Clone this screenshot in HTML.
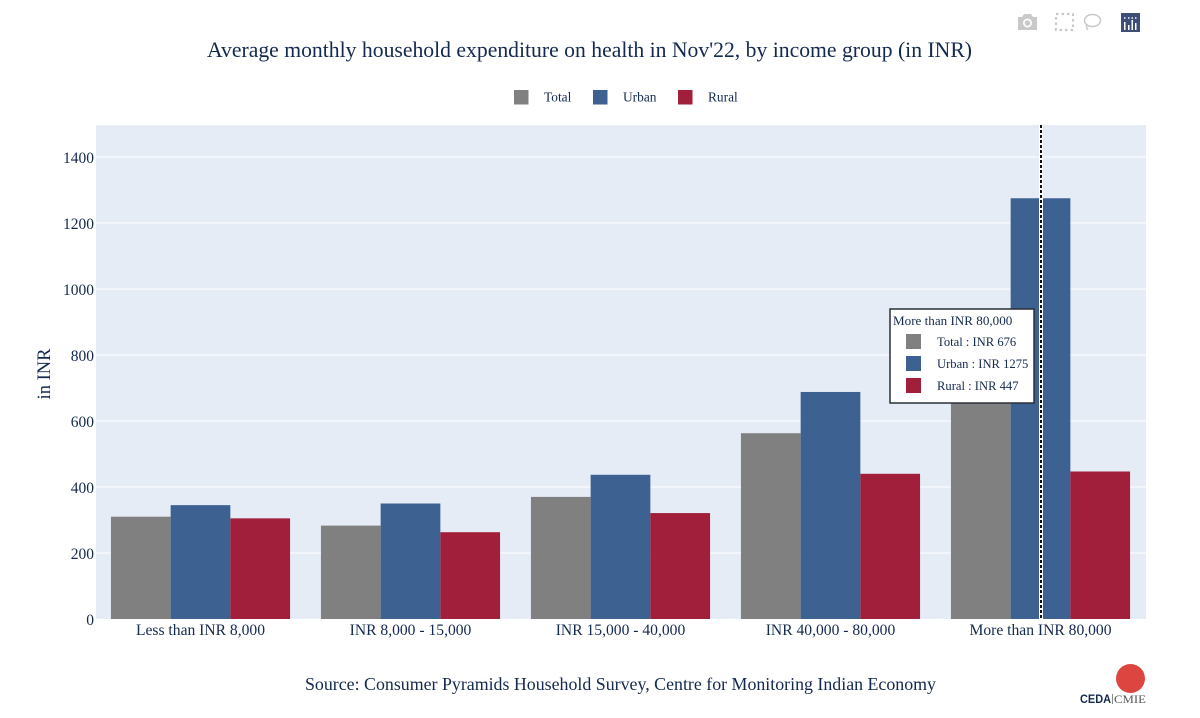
<!DOCTYPE html>
<html lang="en">
<head>
<meta charset="utf-8">
<title>Average monthly household expenditure on health</title>
<style>
html,body{margin:0;padding:0;background:#fff;}
svg{display:block;}
text{font-family:"Liberation Serif","DejaVu Serif",serif;fill:#14294f;}
</style>
</head>
<body>
<svg id="chart" width="1200" height="718" viewBox="0 0 1200 718" xmlns="http://www.w3.org/2000/svg">
  <rect x="0" y="0" width="1200" height="718" fill="#ffffff"/>
  <g>
    <g fill="#c9c9c9">
      <path d="M1018 17h4l2-3h7l2 3h4v13h-19z"/>
      <circle cx="1027.500" cy="23" r="4.500" fill="#fff"/>
      <circle cx="1027.500" cy="23" r="2.800"/>
    </g>
    <rect x="1056" y="14" width="17" height="16" fill="none" stroke="#c9c9c9" stroke-width="2.200" stroke-dasharray="2.500 3"/>
    <g fill="none" stroke="#c9c9c9" stroke-width="1.500">
      <ellipse cx="1092.500" cy="20.500" rx="8" ry="6"/>
      <path d="M1087 25c-1 2 0 4 1 5"/>
    </g>
    <g>
      <rect x="1121" y="13" width="19" height="19" fill="#3d4f76"/>
      <path d="M1124 22h1.500v8H1124zM1128 25h1.500v5H1128zM1131.500 20h1.500v10h-1.500zM1135 23h1.500v7H1135z" fill="#fff"/>
      <path d="M1124 17h1.500v2H1124zM1128 17h1.500v2H1128zM1131.500 17h1.500v2h-1.500zM1135 17h1.500v2H1135z" fill="#c7cfe0"/>
    </g>
  </g>
  <text x="207" y="57" font-size="22" textLength="765" lengthAdjust="spacingAndGlyphs">Average monthly household expenditure on health in Nov'22, by income group (in INR)</text>
  <rect x="96" y="125" width="1050" height="494" fill="#e5ecf6"/>
  <g id="grid"></g>
  <g id="bars"></g>
  <g id="yticks"></g>
  <g id="xticks"></g>
  <g id="spike"></g>
  <text transform="translate(50 374) rotate(-90)" text-anchor="middle" font-size="18.500">in INR</text>
  <g id="legend"></g>
  <g id="tooltip"></g>
  <text x="305" y="690" font-size="18" textLength="631" lengthAdjust="spacingAndGlyphs">Source: Consumer Pyramids Household Survey, Centre for Monitoring Indian Economy</text>
  <g>
    <circle cx="1130.500" cy="678.500" r="14.500" fill="#dd4540"/>
    <text x="1080" y="703" font-size="11.500" font-weight="700" textLength="31" lengthAdjust="spacingAndGlyphs" style="font-family:'Liberation Sans',sans-serif">CEDA</text>
    <rect x="1112" y="694" width="1" height="10" fill="#888"/>
    <text x="1114" y="703" font-size="11.500" fill="#555" textLength="32" lengthAdjust="spacingAndGlyphs" style="fill:#555">CMIE</text>
  </g>
</svg>
<script>
const categories = ["Less than INR 8,000", "INR 8,000 - 15,000", "INR 15,000 - 40,000", "INR 40,000 - 80,000", "More than INR 80,000"];
const totalValues = [310, 283, 370, 563, 676];
const urbanValues = [345, 350, 437, 688, 1275];
const ruralValues = [305, 263, 321, 440, 447];
const yTickValues = [0, 200, 400, 600, 800, 1000, 1200, 1400];
const seriesNames = ["Total", "Urban", "Rural"];
const seriesColors = ["#808080", "#3d6292", "#a21f3b"];
const hoveredCategory = 4;

const NS = "http://www.w3.org/2000/svg";
const allSeries = [totalValues, urbanValues, ruralValues];
const plotLeft = 96, plotRight = 1146, plotBottom = 619, plotTop = 125;
const bandWidth = (plotRight - plotLeft) / categories.length;
const barWidth = bandWidth * 0.853 / allSeries.length;
const yScale = function (v) { return plotBottom - v * 0.33; };
const xCenter = function (i) { return plotLeft + bandWidth * (i + 0.5); };
const xBar = function (i, s) { return xCenter(i) - 0.5 + (s - allSeries.length / 2) * barWidth; };

function make(tag, attrs, parent, content) {
  const el = document.createElementNS(NS, tag);
  Object.keys(attrs).forEach(function (k) { el.setAttribute(k, attrs[k]); });
  if (content !== undefined) { el.textContent = content; }
  parent.appendChild(el);
  return el;
}

const grid = document.getElementById("grid");
const yticks = document.getElementById("yticks");
yTickValues.forEach(function (v) {
  if (v > 0) {
    const line = make("line", {x1: plotLeft, x2: plotRight, y1: yScale(v), y2: yScale(v), stroke: "#ffffff", "stroke-width": 1}, grid);
    
    
  }
  const label = make("text", {x: 94, y: yScale(v) + 6, "text-anchor": "end", "font-size": 15.5}, yticks, String(v));
  
  
});

const bars = document.getElementById("bars");
allSeries.forEach(function (values, s) {
  values.forEach(function (v, i) {
    const bar = make("rect", {x: xBar(i, s), y: yScale(v), width: barWidth, height: plotBottom - yScale(v), fill: seriesColors[s]}, bars);
    
    
  });
});

const xticks = document.getElementById("xticks");
categories.forEach(function (c, i) {
  const label = make("text", {x: xCenter(i) - 0.5, y: 635, "text-anchor": "middle", "font-size": 15.6}, xticks, c);
  
  
});

const spike = document.getElementById("spike");
const spikeBase = make("line", {x1: xCenter(hoveredCategory), x2: xCenter(hoveredCategory), y1: plotTop, y2: plotBottom, stroke: "#ffffff", "stroke-width": 4}, spike);


const spikeLine = make("line", {x1: xCenter(hoveredCategory), x2: xCenter(hoveredCategory), y1: plotTop, y2: plotBottom, stroke: "#111111", "stroke-width": 2, "stroke-dasharray": "3 2"}, spike);



const legend = document.getElementById("legend");
const legendSwatchX = [514, 593, 678];
seriesNames.forEach(function (n, s) {
  const sw = make("rect", {x: legendSwatchX[s], y: 90, width: 14.5, height: 14.5, fill: seriesColors[s]}, legend);
  
  
  const tx = make("text", {x: legendSwatchX[s] + 30, y: 101.500, "font-size": 13.4}, legend, n);
  
  
});

const tooltip = document.getElementById("tooltip");
const tipBox = make("rect", {x: 890, y: 309, width: 144, height: 94, fill: "#ffffff", stroke: "#2a2f38", "stroke-width": 1.5}, tooltip);


const tipTitle = make("text", {x: 893, y: 325, "font-size": 13.1}, tooltip, categories[hoveredCategory]);


seriesNames.forEach(function (n, s) {
  const rowY = 334 + s * 22;
  const sw = make("rect", {x: 906, y: rowY, width: 15, height: 15, fill: seriesColors[s]}, tooltip);
  
  
  const tx = make("text", {x: 937, y: rowY + 12, "font-size": 12.6}, tooltip, n + " : INR " + allSeries[s][hoveredCategory]);
  
  
});
</script>
</body>
</html>
